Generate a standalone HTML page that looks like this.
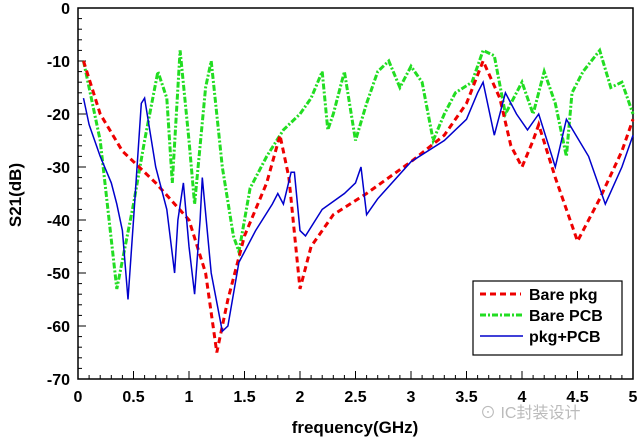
<!DOCTYPE html><html><head><meta charset="utf-8"><style>body{margin:0;background:#fff}svg text{font-family:"Liberation Sans",sans-serif;font-weight:bold}</style></head><body>
<svg id="s" width="640" height="440" xmlns="http://www.w3.org/2000/svg">
<rect x="78" y="8" width="555" height="371" fill="none" stroke="#000" stroke-width="1.5"/>
<g id="ax"></g>
<text x="355" y="433" font-size="17" text-anchor="middle">frequency(GHz)</text>
<text transform="translate(21,195) rotate(-90)" font-size="17" text-anchor="middle">S21(dB)</text>
<g id="ser"></g>
<rect x="473" y="281" width="149" height="74" fill="#fff" stroke="#000" stroke-width="1.2"/>
<line x1="480" y1="294" x2="521" y2="294" stroke="#e00" stroke-width="3" stroke-dasharray="6,4"/>
<line x1="480" y1="315" x2="522" y2="315" stroke="#2d2" stroke-width="3" stroke-dasharray="6,2,2,2"/>
<line x1="480" y1="336" x2="523" y2="336" stroke="#00c" stroke-width="1.5"/>
<text x="529" y="300" font-size="16">Bare pkg</text>
<text x="529" y="321" font-size="16">Bare PCB</text>
<text x="529" y="342" font-size="16">pkg+PCB</text>
<text x="480" y="418" font-size="16" fill="#bbb" style="font-weight:normal;font-family:'Liberation Sans','Noto Sans CJK SC',sans-serif">⊙ IC封装设计</text>
</svg>
<script>
const X=f=>78+111*f,Y=d=>8-5.3*d;let ax='';
for(let d=0;d>=-70;d-=2){let y=Y(d),L=d%10==0?8:4;ax+=`<line x1="78" y1="${y}" x2="${78+L}" y2="${y}" stroke="#000"/>`;if(d%10==0)ax+=`<text x="70" y="${y+6}" font-size="16" text-anchor="end">${d}</text>`;}
for(let i=0;i<=50;i++){let x=X(i/10),L=i%5==0?8:4;ax+=`<line x1="${x}" y1="379" x2="${x}" y2="${379-L}" stroke="#000"/>`;if(i%5==0)ax+=`<text x="${x}" y="402" font-size="16" text-anchor="middle">${i/10}</text>`;}
document.getElementById('ax').innerHTML=ax;
const R=[[.05,-10],[.2,-20],[.4,-27],[.7,-33],[1,-40],[1.15,-50],[1.25,-65],[1.35,-55],[1.5,-43],[1.7,-33],[1.82,-24],[1.9,-32],[2,-53],[2.1,-45],[2.3,-39],[2.6,-35],[3,-29],[3.3,-24],[3.5,-18],[3.65,-10],[3.8,-17],[3.9,-26],[4,-30],[4.1,-25],[4.15,-22],[4.3,-32],[4.5,-44],[4.7,-36],[4.9,-27],[5,-21]];
const G=[[.05,-10],[.2,-25],[.35,-53],[.5,-37],[.6,-25],[.72,-12],[.8,-17],[.85,-33],[.92,-8],[1,-25],[1.05,-37],[1.15,-15],[1.2,-10],[1.3,-30],[1.4,-43],[1.45,-46],[1.55,-34],[1.7,-28],[1.85,-23],[2,-20],[2.1,-17],[2.2,-12],[2.25,-23],[2.3,-20],[2.4,-12],[2.5,-25],[2.6,-18],[2.7,-12],[2.8,-10],[2.9,-15],[3,-11],[3.1,-14],[3.2,-25],[3.3,-20],[3.4,-16],[3.55,-14],[3.65,-8],[3.75,-9],[3.85,-20],[3.9,-18],[4,-14],[4.1,-20],[4.2,-12],[4.3,-18],[4.4,-28],[4.45,-16],[4.55,-12],[4.7,-8],[4.8,-15],[4.9,-14],[5,-20]];
const B=[[.05,-17],[.1,-22],[.2,-28],[.3,-33],[.35,-37],[.4,-42],[.45,-55],[.5,-40],[.57,-18],[.6,-17],[.7,-30],[.8,-38],[.87,-50],[.9,-40],[.95,-33],[1,-45],[1.05,-54],[1.1,-40],[1.12,-32],[1.2,-50],[1.3,-61],[1.35,-60],[1.45,-48],[1.6,-42],[1.75,-37],[1.8,-35],[1.85,-37],[1.92,-31],[1.95,-31],[2,-42],[2.05,-43],[2.2,-38],[2.4,-35],[2.5,-33],[2.55,-30],[2.6,-39],[2.7,-36],[3,-29],[3.3,-25],[3.5,-21],[3.6,-16],[3.65,-14],[3.75,-24],[3.85,-16],[3.95,-20],[4.05,-23],[4.15,-20],[4.3,-30],[4.4,-21],[4.6,-28],[4.75,-37],[4.9,-30],[5,-24]];
const P=a=>a.map(p=>X(p[0]).toFixed(1)+','+Y(p[1]).toFixed(1)).join(' ');
document.getElementById('ser').innerHTML=`<polyline points="${P(G)}" fill="none" stroke="#2d2" stroke-width="3" stroke-dasharray="6,2,2,2"/><polyline points="${P(R)}" fill="none" stroke="#e00" stroke-width="3" stroke-dasharray="6,4"/><polyline points="${P(B)}" fill="none" stroke="#00c" stroke-width="1.5"/>`;
</script></body></html>
